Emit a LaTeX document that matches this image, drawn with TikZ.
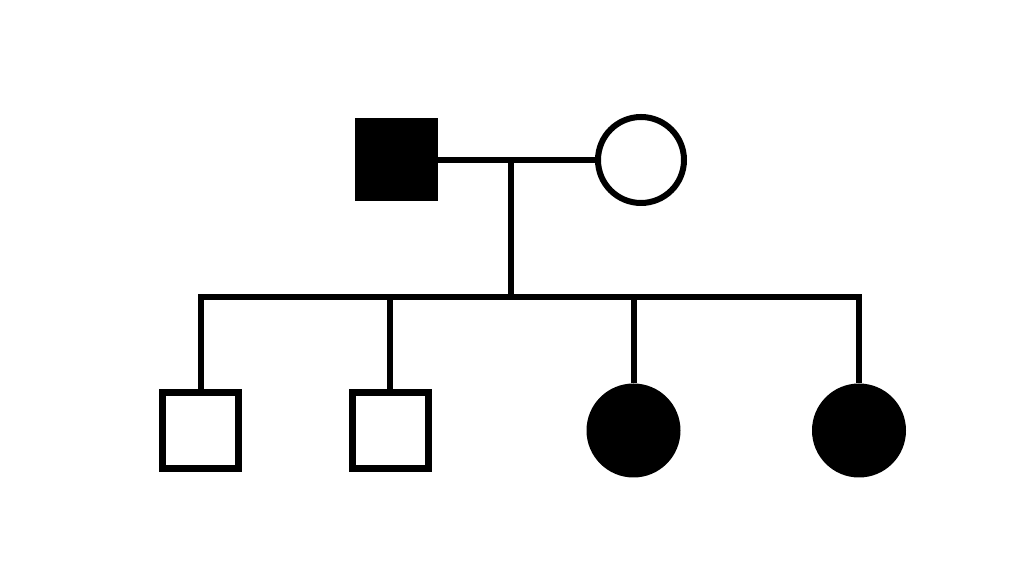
\documentclass[tikz,border=0pt]{standalone}
\usetikzlibrary{calc}
\tikzset{
  wire/.style={black,line width=3pt,line join=miter},
  male/.style={draw=black,line width=3.5pt,rectangle,minimum size=38pt,inner sep=0pt,fill=white},
  female/.style={draw=black,line width=3pt,circle,minimum size=43pt,inner sep=0pt,fill=white},
  affected/.style={fill=black},
}

\begin{document}
\begin{tikzpicture}[x=0.5pt,y=-0.5pt]
  \path[use as bounding box,fill=white] (0,0) rectangle (1024,565);

  % parents
  \node[male,affected] (father) at (396.5,160) {};
  \node[female] (mother) at (641,160) {};

  % children
  \node[male] (son1) at (200.5,431) {};
  \node[male] (son2) at (390,431) {};
  \node[female,affected,minimum size=44pt] (dau1) at (633.5,430.5) {};
  \node[female,affected,minimum size=44pt] (dau2) at (859,430.5) {};

  \coordinate (mate) at (511,160);
  \coordinate (sibL) at (son1.north |- 0,297);
  \coordinate (sibR) at (dau2.north |- 0,297);

  \draw[wire] (father.east) -- (mother.west);
  \draw[wire] (mate) -- (mate |- sibL);
  \draw[wire] (son1.north) -- (sibL) -- (sibR) -- (dau2.north);
  \draw[wire] (son2.north) -- (son2.north |- sibL);
  \draw[wire] (dau1.north) -- (dau1.north |- sibL);
\end{tikzpicture}
\end{document}
